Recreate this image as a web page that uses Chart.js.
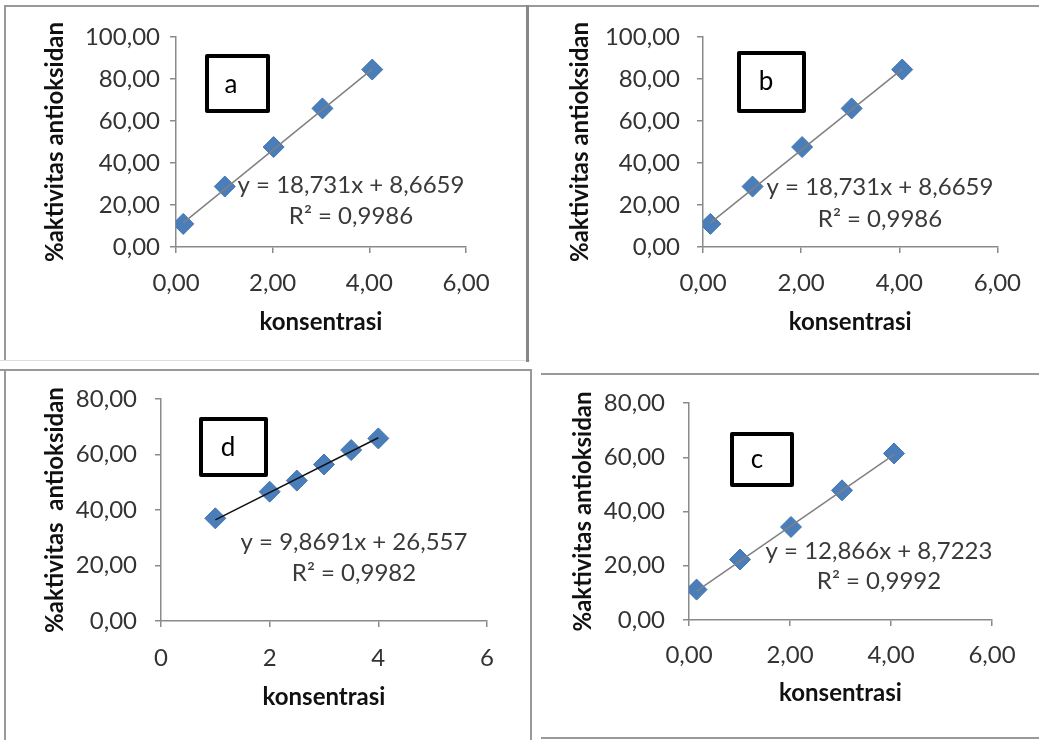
<!DOCTYPE html>
<html>
<head>
<meta charset="utf-8">
<script src="https://cdn.jsdelivr.net/npm/chart.js@4.4.1/dist/chart.umd.min.js"></script>
<style>
html,body{margin:0;padding:0;background:#fff;}
#wrap{position:relative;width:1039px;height:740px;overflow:hidden;background:#fff;}
#wrap canvas{position:absolute;left:0;top:0;}
.ln{position:absolute;background:#999;}
</style>
</head>
<body>
<div id="wrap">
  <div class="ln" style="left:4px;top:5px;width:1035px;height:2px;"></div>
  <div class="ln" style="left:4px;top:5px;width:2px;height:356px;"></div>
  <div class="ln" style="left:0px;top:360px;width:530px;height:1px;background:#ddd;"></div>
  <div class="ln" style="left:526px;top:5px;width:3px;height:357px;background:#888;"></div>
  <div class="ln" style="left:0px;top:369px;width:532px;height:2px;"></div>
  <div class="ln" style="left:4px;top:369px;width:2px;height:371px;"></div>
  <div class="ln" style="left:530px;top:369px;width:2px;height:371px;"></div>
  <div class="ln" style="left:541px;top:373px;width:498px;height:2px;"></div>
  <div class="ln" style="left:541px;top:737px;width:498px;height:2px;"></div>
  <canvas id="ca" width="1039" height="740"></canvas>
  <canvas id="cb" width="1039" height="740"></canvas>
  <canvas id="cd" width="1039" height="740"></canvas>
  <canvas id="cc" width="1039" height="740"></canvas>
</div>
<script>
// ---------------- data ----------------
const xA = [0.15, 1.01, 2.02, 3.03, 4.06];
const yA = [11.0, 28.8, 47.6, 66.0, 84.5];
const xB = [0.15, 1.01, 2.02, 3.03, 4.06];
const yB = [11.0, 28.8, 47.6, 66.0, 84.5];
const xD = [1, 2, 2.5, 3, 3.5, 4];
const yD = [37.0, 46.6, 50.6, 56.4, 61.6, 65.8];
const xC = [0.15, 1.01, 2.02, 3.03, 4.06];
const yC = [11.2, 22.3, 34.3, 47.8, 61.4];

const slopeA = 18.731, interceptA = 8.6659;
const slopeB = 18.731, interceptB = 8.6659;
const slopeD = 9.8691, interceptD = 26.557;
const slopeC = 12.866, interceptC = 8.7223;

const eqA = ['y = 18,731x + 8,6659', 'R² = 0,9986'];
const eqB = ['y = 18,731x + 8,6659', 'R² = 0,9986'];
const eqD = ['y = 9,8691x + 26,557', 'R² = 0,9982'];
const eqC = ['y = 12,866x + 8,7223', 'R² = 0,9992'];

const xTicksDec = ['0,00', '2,00', '4,00', '6,00'];
const xTicksInt = ['0', '2', '4', '6'];
const yTicks100 = ['0,00', '20,00', '40,00', '60,00', '80,00', '100,00'];
const yTicks80 = ['0,00', '20,00', '40,00', '60,00', '80,00'];

const xTitle = 'konsentrasi';
const yTitle = '%aktivitas antioksidan';
const yTitleD = '%aktivitas  antioksidan';

// ---------------- drawing ----------------
const FONT = 'Lato, "Open Sans", sans-serif';
const FS = 24;

const annotPlugin = {
  id: 'annot',
  afterDatasetsDraw(chart, args, o) {
    const ctx = chart.ctx;
    ctx.save();
    ctx.strokeStyle = '#000';
    ctx.lineWidth = 4;
    ctx.lineJoin = 'round';
    ctx.strokeRect(o.box[0], o.box[1], o.box[2], o.box[3]);
    ctx.fillStyle = '#000';
    ctx.font = '26px ' + FONT;
    ctx.textAlign = 'center';
    ctx.textBaseline = 'alphabetic';
    ctx.fillText(o.letter, o.letterPos[0], o.letterPos[1]);
    ctx.fillStyle = '#3a3a3a';
    ctx.font = FS + 'px ' + FONT;
    ctx.fillText(o.eq[0], o.eqX, o.eqY[0]);
    ctx.fillText(o.eq[1], o.eqX, o.eqY[1]);
    ctx.restore();
  }
};

function makeChart(id, p) {
  const half = FS / 2;
  const padLeft = p.ytx - half;
  const xBottom = p.xty + half;
  const pts = p.xs.map((x, i) => ({x: x, y: p.ys[i]}));
  const x0 = p.xs[0], x1 = p.xs[p.xs.length - 1];
  const trend = [{x: x0, y: p.slope * x0 + p.intercept}, {x: x1, y: p.slope * x1 + p.intercept}];
  return new Chart(document.getElementById(id), {
    type: 'scatter',
    data: {
      datasets: [
        {type: 'line', data: trend, borderColor: p.trendColor, borderWidth: 1.5, pointRadius: 0, fill: false},
        {data: pts, pointStyle: 'rectRot', pointRadius: 10.5, pointHoverRadius: 10.5,
         backgroundColor: '#4a7ebb', borderColor: '#4474ad', borderWidth: 1}
      ]
    },
    options: {
      responsive: false,
      animation: false,
      events: [],
      layout: {padding: {left: padLeft, top: p.T, right: 1039 - p.R, bottom: 740 - xBottom}},
      plugins: {
        legend: {display: false},
        tooltip: {enabled: false},
        annot: {box: p.box, letter: p.letter, letterPos: p.letterPos, eq: p.eq, eqX: p.eqX, eqY: p.eqY}
      },
      scales: {
        x: {
          type: 'linear', min: 0, max: 6,
          afterFit: s => { s.height = xBottom - p.B; },
          ticks: {stepSize: 2, padding: p.xPad, color: '#333', font: {family: FONT, size: FS, lineHeight: 1},
                  callback: (v, i) => p.xTicks[i]},
          grid: {drawOnChartArea: false, drawTicks: true, tickLength: 6, color: '#8a8a8a', lineWidth: 1.5},
          border: {display: true, color: '#8a8a8a', width: 1.5},
          title: {display: true, text: xTitle, color: '#111', padding: 0,
                  font: {family: FONT, size: FS, weight: 'bold', lineHeight: 1}}
        },
        y: {
          type: 'linear', min: 0, max: p.yMax,
          afterFit: s => { s.width = p.L - padLeft; },
          ticks: {stepSize: 20, padding: p.yPad, color: '#333', font: {family: FONT, size: FS, lineHeight: 1},
                  callback: (v, i) => p.yTicks[i]},
          grid: {drawOnChartArea: false, drawTicks: true, tickLength: 6, color: '#8a8a8a', lineWidth: 1.5},
          border: {display: true, color: '#8a8a8a', width: 1.5},
          title: {display: true, text: p.yTitle, color: '#111', padding: 0,
                  font: {family: FONT, size: FS, weight: 'bold', lineHeight: 1}}
        }
      }
    },
    plugins: [annotPlugin]
  });
}

makeChart('ca', {xs: xA, ys: yA, slope: slopeA, intercept: interceptA, trendColor: '#808080',
  L: 176, R: 466, T: 37, B: 247, ytx: 55, xty: 322, yMax: 100, xTicks: xTicksDec, yTicks: yTicks100,
  xPad: 18, yPad: 10, yTitle: yTitle,
  box: [207, 56, 61, 55], letter: 'a', letterPos: [231, 93], eq: eqA, eqX: 351, eqY: [193, 224]});

makeChart('cb', {xs: xB, ys: yB, slope: slopeB, intercept: interceptB, trendColor: '#808080',
  L: 703, R: 998, T: 37, B: 247, ytx: 580, xty: 322, yMax: 100, xTicks: xTicksDec, yTicks: yTicks100,
  xPad: 18, yPad: 17, yTitle: yTitle,
  box: [739, 53, 65, 58], letter: 'b', letterPos: [766, 90], eq: eqB, eqX: 880, eqY: [195, 227]});

makeChart('cd', {xs: xD, ys: yD, slope: slopeD, intercept: interceptD, trendColor: '#111',
  L: 161, R: 487, T: 399, B: 621, ytx: 55, xty: 697, yMax: 80, xTicks: xTicksInt, yTicks: yTicks80,
  xPad: 19, yPad: 18, yTitle: yTitleD,
  box: [201, 419, 65, 56], letter: 'd', letterPos: [228, 456], eq: eqD, eqX: 354, eqY: [550, 581]});

makeChart('cc', {xs: xC, ys: yC, slope: slopeC, intercept: interceptC, trendColor: '#808080',
  L: 689, R: 992, T: 403, B: 620, ytx: 583, xty: 693, yMax: 80, xTicks: xTicksDec, yTicks: yTicks80,
  xPad: 17, yPad: 18, yTitle: yTitle,
  box: [732, 434, 60, 51], letter: 'c', letterPos: [757, 468], eq: eqC, eqX: 879, eqY: [559, 589]});
</script>
</body>
</html>
